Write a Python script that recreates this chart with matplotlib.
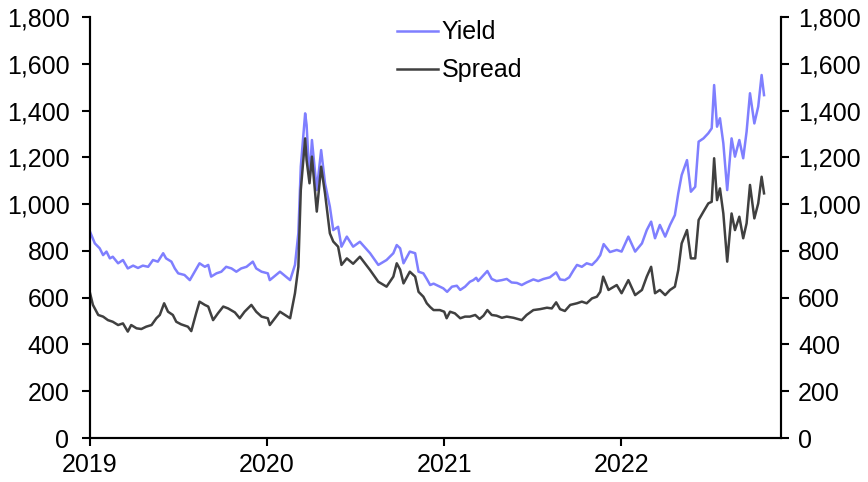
import matplotlib
matplotlib.use("Agg")
import matplotlib.pyplot as plt
import matplotlib.dates as mdates
import matplotlib.ticker as mticker
import pandas as pd

plt.rcParams['font.family'] = ['Liberation Sans', 'DejaVu Sans']

yield_dates = [
    "2019-01-01", "2019-01-11", "2019-01-21", "2019-01-28", "2019-02-04", "2019-02-11",
    "2019-02-17", "2019-02-28", "2019-03-10", "2019-03-20", "2019-03-31", "2019-04-10",
    "2019-04-20", "2019-05-01", "2019-05-11", "2019-05-21", "2019-06-01", "2019-06-07",
    "2019-06-18", "2019-06-25", "2019-07-02", "2019-07-15", "2019-07-26", "2019-08-05",
    "2019-08-15", "2019-08-26", "2019-09-02", "2019-09-08", "2019-09-19", "2019-09-29",
    "2019-10-09", "2019-10-20", "2019-10-30", "2019-11-09", "2019-11-20", "2019-12-03",
    "2019-12-10", "2019-12-21", "2020-01-03",
    "2020-01-07", "2020-01-28", "2020-02-18", "2020-02-28", "2020-03-06", "2020-03-11",
    "2020-03-20", "2020-03-23", "2020-03-29", "2020-04-03", "2020-04-13", "2020-04-22",
    "2020-04-30", "2020-05-10", "2020-05-17", "2020-05-27", "2020-06-03", "2020-06-14",
    "2020-06-27", "2020-07-11", "2020-08-01", "2020-08-18", "2020-09-04", "2020-09-18",
    "2020-09-25", "2020-10-02", "2020-10-09", "2020-10-22", "2020-11-02", "2020-11-09",
    "2020-11-19", "2020-11-26", "2020-12-03", "2020-12-10", "2020-12-23", "2020-12-30",
    "2021-01-07", "2021-01-17", "2021-01-27", "2021-02-03", "2021-02-13", "2021-02-23",
    "2021-03-02", "2021-03-08", "2021-03-12", "2021-03-22", "2021-03-31", "2021-04-09",
    "2021-04-19", "2021-04-30", "2021-05-10", "2021-05-20", "2021-05-31", "2021-06-10",
    "2021-06-20", "2021-07-04", "2021-07-14", "2021-07-25", "2021-08-07", "2021-08-20",
    "2021-08-28", "2021-09-07", "2021-09-16", "2021-09-25", "2021-10-02", "2021-10-12",
    "2021-10-22", "2021-11-02", "2021-11-12", "2021-11-19", "2021-11-26", "2021-12-09",
    "2021-12-23",
    "2022-01-02", "2022-01-16", "2022-01-30", "2022-02-13", "2022-02-23", "2022-03-04",
    "2022-03-12", "2022-03-22", "2022-04-02", "2022-04-12", "2022-04-22", "2022-04-29",
    "2022-05-06", "2022-05-17", "2022-05-25", "2022-06-03", "2022-06-10", "2022-06-20",
    "2022-06-30", "2022-07-07", "2022-07-12", "2022-07-18", "2022-07-24", "2022-07-31",
    "2022-08-08", "2022-08-17", "2022-08-24", "2022-09-02", "2022-09-10", "2022-09-17",
    "2022-09-24", "2022-10-03", "2022-10-11", "2022-10-18", "2022-10-23",
]
yield_vals = [
    882, 832, 811, 782, 797, 768,
    775, 747, 761, 725, 737, 727,
    737, 732, 761, 754, 790, 768,
    754, 725, 704, 697, 675, 711,
    747, 732, 740, 690, 704, 711,
    732, 725, 711, 725, 732, 754,
    725, 711, 704,
    675, 711, 675, 740, 876, 1160,
    1388, 1338, 1103, 1274, 1060, 1231,
    1089, 989, 889, 903, 818, 861,
    818, 839, 790, 740, 761, 790,
    825, 811, 747, 797, 790, 711,
    704, 680, 654, 660, 647, 640,
    625, 647, 651, 633, 647, 668,
    675, 685, 671, 694, 714, 680,
    671, 675, 680, 665, 663, 654,
    665, 678, 671, 680, 687, 708,
    678, 675, 687, 718, 740, 732,
    747, 740, 761, 782, 829, 795,
    804,
    797, 861, 797, 832, 889, 925,
    854, 911, 861, 911, 953, 1046,
    1124, 1188, 1053, 1074, 1267, 1281,
    1303, 1324, 1509, 1331, 1367, 1260,
    1060, 1281, 1203, 1274, 1196, 1310,
    1474, 1345, 1417, 1552, 1466,
]

spread_dates = [
    "2019-01-01", "2019-01-07", "2019-01-18", "2019-01-28", "2019-02-07", "2019-02-17",
    "2019-02-28", "2019-03-10", "2019-03-20", "2019-03-27", "2019-04-07", "2019-04-17",
    "2019-04-27", "2019-05-08", "2019-05-18", "2019-05-25", "2019-06-03", "2019-06-11",
    "2019-06-21", "2019-06-28", "2019-07-08", "2019-07-22", "2019-07-29", "2019-08-08",
    "2019-08-15", "2019-08-26", "2019-09-02", "2019-09-12", "2019-09-22", "2019-10-03",
    "2019-10-13", "2019-10-27", "2019-11-06", "2019-11-16", "2019-11-30", "2019-12-10",
    "2019-12-21", "2020-01-03",
    "2020-01-07", "2020-01-28", "2020-02-18", "2020-02-28", "2020-03-06", "2020-03-11",
    "2020-03-20", "2020-03-23", "2020-03-29", "2020-04-03", "2020-04-13", "2020-04-22",
    "2020-04-30", "2020-05-10", "2020-05-17", "2020-05-27", "2020-06-03", "2020-06-14",
    "2020-06-27", "2020-07-11", "2020-08-01", "2020-08-18", "2020-09-04", "2020-09-18",
    "2020-09-25", "2020-10-02", "2020-10-09", "2020-10-22", "2020-11-02", "2020-11-09",
    "2020-11-19", "2020-11-26", "2020-12-03", "2020-12-10", "2020-12-23",
    "2021-01-01", "2021-01-06", "2021-01-13", "2021-01-23", "2021-02-03", "2021-02-13",
    "2021-02-23", "2021-03-06", "2021-03-15", "2021-03-23", "2021-03-31", "2021-04-09",
    "2021-04-19", "2021-04-30", "2021-05-10", "2021-05-24", "2021-06-10", "2021-06-20",
    "2021-07-04", "2021-07-18", "2021-08-01", "2021-08-11", "2021-08-20", "2021-08-28",
    "2021-09-07", "2021-09-18", "2021-10-02", "2021-10-12", "2021-10-22", "2021-11-02",
    "2021-11-12", "2021-11-19", "2021-11-25", "2021-12-06", "2021-12-23",
    "2022-01-02", "2022-01-16", "2022-01-30", "2022-02-13", "2022-02-23", "2022-03-04",
    "2022-03-12", "2022-03-22", "2022-04-02", "2022-04-12", "2022-04-22", "2022-04-29",
    "2022-05-06", "2022-05-17", "2022-05-25", "2022-06-03", "2022-06-10", "2022-06-20",
    "2022-06-30", "2022-07-07", "2022-07-12", "2022-07-18", "2022-07-24", "2022-07-31",
    "2022-08-08", "2022-08-17", "2022-08-24", "2022-09-02", "2022-09-10", "2022-09-17",
    "2022-09-24", "2022-10-03", "2022-10-11", "2022-10-18", "2022-10-23",
]
spread_vals = [
    620, 569, 526, 519, 504, 497,
    483, 490, 455, 483, 469, 466,
    476, 483, 512, 526, 576, 540,
    526, 497, 486, 476, 457, 533,
    583, 569, 562, 504, 533, 562,
    554, 537, 512, 540, 569, 540,
    519, 512,
    483, 540, 512, 619, 732, 1060,
    1281, 1188, 1089, 1203, 968, 1160,
    1046, 875, 840, 818, 740, 768,
    745, 775, 718, 668, 647, 690,
    747, 720, 661, 711, 690, 625,
    604, 576, 560, 547, 547,
    540, 512, 540, 533, 512, 519,
    519, 526, 509, 523, 547, 526,
    523, 514, 519, 514, 504, 526,
    547, 551, 557, 554, 580, 551,
    543, 569, 576, 583, 576, 597,
    604, 625, 690, 633, 654,
    619, 675, 611, 633, 690, 732,
    619, 633, 611, 633, 647, 718,
    832, 889, 768, 768, 932, 968,
    1003, 1010, 1196, 1017, 1067, 960,
    754, 960, 889, 946, 854, 918,
    1082, 939, 1003, 1117, 1046,
]

year_ticks = ["2019-01-01", "2020-01-01", "2021-01-01", "2022-01-01"]
y_ticks = [0, 200, 400, 600, 800, 1000, 1200, 1400, 1600, 1800]

fig = plt.figure(figsize=(8.68, 4.82), dpi=100)
ax = fig.add_axes([90/868, 1-438/482, (781-90)/868, (438-17)/482])

l1, = ax.plot(pd.to_datetime(yield_dates), yield_vals, color='#7f7fff', lw=1.8, label='Yield')
l2, = ax.plot(pd.to_datetime(spread_dates), spread_vals, color='#404040', lw=1.8, label='Spread')

ax.set_xlim(pd.Timestamp("2019-01-01"), pd.Timestamp("2022-11-27"))
ax.set_ylim(0, 1800)
ax.set_yticks(y_ticks)
fmt = mticker.FuncFormatter(lambda v, p: f"{int(v):,}")
ax.yaxis.set_major_formatter(fmt)
ax.set_xticks(pd.to_datetime(year_ticks))
ax.xaxis.set_major_formatter(mdates.DateFormatter('%Y'))

ax2 = ax.twinx()
ax2.set_ylim(0, 1800)
ax2.set_yticks(y_ticks)
ax2.yaxis.set_major_formatter(fmt)

for a in (ax, ax2):
    a.spines['top'].set_visible(False)
    for s in ('left', 'right', 'bottom'):
        a.spines[s].set_linewidth(1.5)
        a.spines[s].set_color('black')
    a.tick_params(axis='both', which='major', labelsize=18, length=5.8, width=1.5,
                  direction='out', colors='black')
ax.tick_params(axis='y', pad=9)
ax2.tick_params(axis='y', pad=6.5)
ax.tick_params(axis='x', pad=5)

ax.legend(handles=[l1, l2], loc='upper left', bbox_to_anchor=(0.4438, 0.992),
          frameon=False, fontsize=18, handlelength=1.66, handletextpad=0.14,
          labelspacing=0.56, borderaxespad=0, borderpad=0)

fig.savefig("out.png", dpi=100)
